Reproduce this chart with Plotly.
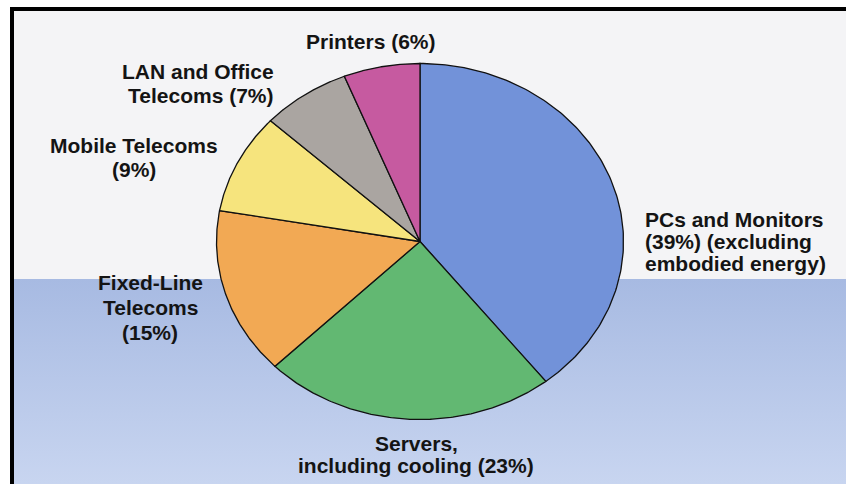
import numpy as np
import plotly.graph_objects as go

# ICT CO2 emission shares by sector
categories = ["PCs and Monitors", "Servers", "Fixed-Line Telecoms",
              "Mobile Telecoms", "LAN and Office Telecoms", "Printers"]
shares = [39, 23, 15, 9, 7, 6]
colors = ["#7292d9", "#62b872", "#f2a954", "#f6e47d", "#aaa5a1", "#c65aa0"]

# label text, one entry per line; {p} is replaced by the share
label_lines = [
    ["PCs and Monitors", "({p}%) (excluding", "embodied energy)"],
    ["Servers,", "including cooling ({p}%)"],
    ["Fixed-Line", "Telecoms", "({p}%)"],
    ["Mobile Telecoms", "({p}%)"],
    ["LAN and Office", "Telecoms ({p}%)"],
    ["Printers ({p}%)"],
]

# canvas and pie geometry in pixels
W, H = 846, 484
CX, CY = 420, 241.5
RX, RY = 203.5, 178
BLUE_TOP = 279

# label placement: x, anchor, first-line y, line step (pixels)
label_pos = [
    (643, "left", 219, 22.2),
    (416, "center", 443.5, 21.8),
    (150, "center", 282.7, 25),
    (134, "center", 145.3, 24.2),
    (276, "right", 71.7, 23.3),
    (371, "center", 41, 0),
]

x_range = [-CX / RX, (W - CX) / RX]
y_range = [-(H - CY) / RY, CY / RY]


def py_to_y(py):
    return (CY - py) / RY


fig = go.Figure()

# lower blue backdrop with a soft vertical gradient
yb0, yb1 = py_to_y(BLUE_TOP), y_range[0]
fig.add_trace(go.Scatter(
    x=[x_range[0], x_range[1], x_range[1], x_range[0], x_range[0]],
    y=[yb0, yb0, yb1, yb1, yb0],
    mode="lines", line=dict(width=0), fill="toself",
    fillgradient=dict(type="vertical", start=yb0, stop=yb1,
                      colorscale=[[0, "#a7bae2"], [1, "#c8d5f0"]]),
    hoverinfo="skip", showlegend=False,
))

# pie slices, clockwise from 12 o'clock
total = float(sum(shares))
cum = np.concatenate([[0.0], np.cumsum(shares)]) / total * 2 * np.pi
for i, name in enumerate(categories):
    th = np.linspace(cum[i], cum[i + 1], 160)
    xs = np.concatenate([[0.0], np.sin(th), [0.0]])
    ys = np.concatenate([[0.0], np.cos(th), [0.0]])
    fig.add_trace(go.Scatter(
        x=xs, y=ys, mode="lines", fill="toself",
        fillcolor=colors[i], line=dict(color="#111111", width=1.3),
        name=name, hoverinfo="name", showlegend=False,
    ))

# labels
annotations = []
for lines, share, (px, anchor, py0, step) in zip(label_lines, shares, label_pos):
    for k, line in enumerate(lines):
        annotations.append(dict(
            x=px / W, y=1 - (py0 + k * step) / H, xref="paper", yref="paper",
            text="<b>" + line.format(p=share) + "</b>", showarrow=False,
            xanchor=anchor, yanchor="middle", align=anchor,
            font=dict(family="Arial", size=21, color="#141414"),
        ))

# frame: white margin, then a black rule along the top and left edges
shapes = [
    dict(type="rect", xref="paper", yref="paper", x0=0, x1=10 / W, y0=0, y1=1,
         fillcolor="white", line=dict(width=0), layer="above"),
    dict(type="rect", xref="paper", yref="paper", x0=0, x1=1, y0=1 - 7 / H, y1=1,
         fillcolor="white", line=dict(width=0), layer="above"),
    dict(type="rect", xref="paper", yref="paper", x0=10 / W, x1=14 / W,
         y0=0, y1=1 - 7 / H, fillcolor="black", line=dict(width=0), layer="above"),
    dict(type="rect", xref="paper", yref="paper", x0=10 / W, x1=1,
         y0=1 - 11 / H, y1=1 - 7 / H, fillcolor="black", line=dict(width=0),
         layer="above"),
]

fig.update_layout(
    width=W, height=H, margin=dict(l=0, r=0, t=0, b=0),
    paper_bgcolor="#f4f4f6", plot_bgcolor="rgba(0,0,0,0)",
    xaxis=dict(range=x_range, visible=False, fixedrange=True),
    yaxis=dict(range=y_range, visible=False, fixedrange=True),
    annotations=annotations, shapes=shapes, showlegend=False,
)

fig.write_html("out.html")
